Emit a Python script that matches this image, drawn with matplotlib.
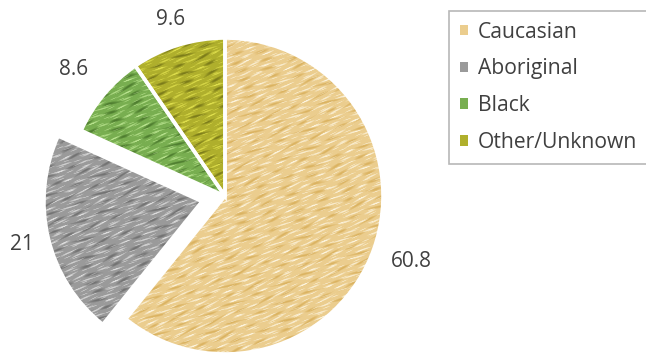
import numpy as np
import matplotlib
matplotlib.use("Agg")
import matplotlib.pyplot as plt
from matplotlib.patches import Patch, Wedge

plt.rcParams['font.family'] = ['Open Sans', 'DejaVu Sans']

# Chart data
categories = ["Caucasian", "Aboriginal", "Black", "Other/Unknown"]
values = [60.8, 21, 8.6, 9.6]
value_labels = ["60.8", "21", "8.6", "9.6"]
explode_frac = [0, 0.15, 0, 0]
label_dist = [1.25, 1.17, 1.25, 1.17]

# Base, highlight and shadow tones for the pencil-sketch fill
base_colors = ["#EBCD8E", "#9A9A9A", "#78AE50", "#AFAF2C"]
light_colors = ["#FCF3DC", "#DCDCDC", "#B8E28E", "#DEDE4C"]
dark_colors = ["#D9B05C", "#6E6E6E", "#4A782C", "#767618"]

W, H = 646, 357
fig = plt.figure(figsize=(W / 100, H / 100), dpi=100)
ax = fig.add_axes([0, 0, 1, 1])

center = (225, H - 196)
radius = 158

wedges, _ = ax.pie(
    values, explode=[e * radius for e in explode_frac], colors=base_colors,
    startangle=90, counterclock=False, center=center, radius=radius,
    frame=True, wedgeprops=dict(edgecolor='none', linewidth=0),
)
ax.set_xlim(0, W)
ax.set_ylim(0, H)
ax.set_aspect('equal')
ax.axis('off')

# Value labels just outside each slice
for w, lab, d in zip(wedges, value_labels, label_dist):
    tm = np.deg2rad(0.5 * (w.theta1 + w.theta2))
    cx, cy = w.center
    ax.text(cx + d * w.r * np.cos(tm), cy + d * w.r * np.sin(tm), lab,
            ha='center', va='center', fontsize=15, color='#404040', zorder=5)


def to_rgb(h):
    return np.array(matplotlib.colors.to_rgb(h))


# Streaky pencil texture laid over each wedge
X, Y = np.meshgrid(np.arange(W) + 0.5, np.arange(H) + 0.5)
theta = np.deg2rad(22)
u = -X * np.sin(theta) + Y * np.cos(theta)
v = X * np.cos(theta) + Y * np.sin(theta)
s1 = np.sin(2 * np.pi * u / 5.3 + 0.8 * np.sin(2 * np.pi * v / 61))
s2 = np.sin(2 * np.pi * u / 8.9 + 0.6 * np.sin(2 * np.pi * v / 41 + 1.0))
s3 = np.sin(2 * np.pi * u / 3.7 + 0.9 * np.sin(2 * np.pi * v / 93 + 2.0))
g1 = np.sin(2 * np.pi * v / 27 + 3.1 * np.sin(2 * np.pi * u / 19))
g2 = np.sin(2 * np.pi * v / 17 + 2.3 * np.sin(2 * np.pi * u / 13 + 0.5))
hl = (np.clip(s1 - 0.3, 0, None) * np.clip(g1 + 0.2, 0, None)
      + np.clip(s3 - 0.4, 0, None) * np.clip(g2 + 0.1, 0, None)) * 1.0
hl = np.clip(hl, 0, 1)
sh = np.clip(-s2 - 0.25, 0, None) * np.clip(-g1 + 0.35, 0, None) * 0.9
sh = np.clip(sh, 0, 1)

for w, b, l, d in zip(wedges, base_colors, light_colors, dark_colors):
    b, l, d = to_rgb(b), to_rgb(l), to_rgb(d)
    img = (b[None, None, :]
           + (l - b)[None, None, :] * hl[..., None]
           + (d - b)[None, None, :] * sh[..., None])
    img = np.clip(img, 0, 1)
    im = ax.imshow(img, extent=(0, W, 0, H), origin='lower',
                   interpolation='bilinear', zorder=2)
    im.set_clip_path(w)
    ax.add_patch(Wedge(w.center, w.r, w.theta1, w.theta2, facecolor='none',
                       edgecolor='white', linewidth=2.6, zorder=3))

ax.set_xlim(0, W)
ax.set_ylim(0, H)

handles = [Patch(facecolor=c, edgecolor='none') for c in base_colors]
leg = ax.legend(handles, categories, loc='upper left',
                bbox_to_anchor=(449 / W, 1 - 11 / H),
                fontsize=15.2, frameon=True, fancybox=False,
                handlelength=0.4, handleheight=0.4, handletextpad=0.45,
                labelspacing=0.75, borderpad=0.5, borderaxespad=0)
leg.get_frame().set_edgecolor('#A6A6A6')
leg.get_frame().set_linewidth(1.2)
for t in leg.get_texts():
    t.set_color('#404040')

fig.savefig('out.png', dpi=100)
